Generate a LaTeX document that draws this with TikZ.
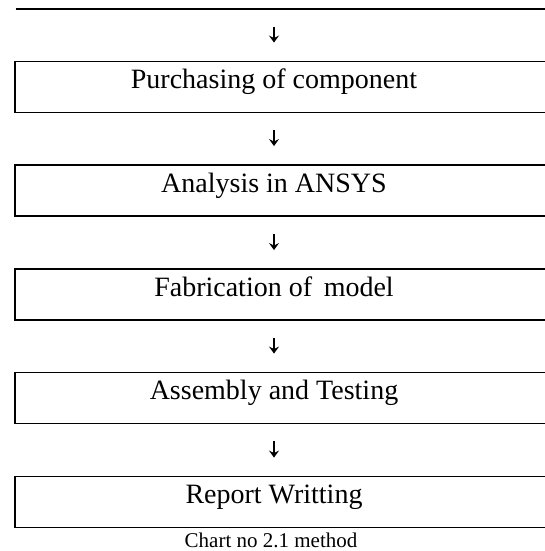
\documentclass[tikz,border=0pt]{standalone}
\usepackage{fontspec}
\setmainfont{Liberation Serif}
\usetikzlibrary{arrows.meta,positioning}

\begin{document}
\begin{tikzpicture}[x=1pt, y=-1pt,
  stage/.style={minimum width=517pt, minimum height=50.5pt, inner sep=0pt,
    text height=20pt, text depth=17pt, font=\fontsize{28}{32}\selectfont},
  frame/.style={line width=1.8pt},
  arr/.style={-{Stealth[length=7pt,width=10pt,inset=2.5pt]}, line width=1.1pt,
    shorten <=18pt, shorten >=19pt}
]
\useasboundingbox (0,0) rectangle (545,551);
\clip (0,0) rectangle (545,551);

\coordinate (start) at (274,9);
\node[stage] (purchase) at (274,87) {Purchasing of component};
\node[stage] (ansys) at (274,190.5) {Analysis in ANSYS};
\node[stage] (fabric) at (274,294.5) {Fabrication of\, model};
\node[stage] (assembly) at (274,398) {Assembly and Testing};
\node[stage] (report) at (274,502) {Report Writting};
\node[font=\fontsize{21}{24}\selectfont] (caption) at (271,540) {Chart no 2.1 method};

% boxes run off the right edge
\draw[frame] (15.5,9) -- ([xshift=40pt]start -| purchase.east);
\foreach \n in {purchase,ansys,fabric,assembly,report}
  \draw[frame] ([xshift=40pt]\n.north east) -- (\n.north west)
    -- (\n.south west) -- ([xshift=40pt]\n.south east);

\draw[arr] (start) -- (purchase);
\draw[arr] (purchase) -- (ansys);
\draw[arr] (ansys) -- (fabric);
\draw[arr] (fabric) -- (assembly);
\draw[arr] (assembly) -- (report);
\end{tikzpicture}
\end{document}
